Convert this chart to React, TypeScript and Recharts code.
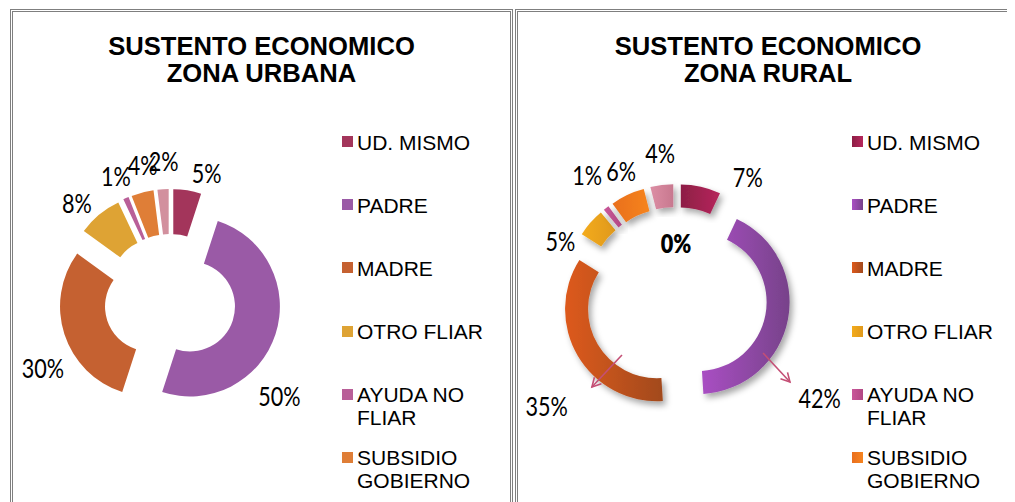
import React from "react";
import { Legend, Pie, PieChart, Sector } from "recharts";

// categories in the order Excel draws them (clockwise from 12 o'clock)
const categories = ["UD. MISMO", "PADRE", "MADRE", "OTRO FLIAR", "AYUDA NO FLIAR", "SUBSIDIO GOBIERNO", "OTROS", "NINGUNO"];
const urbanValues = [5, 50, 30, 8, 1, 4, 2];
const ruralValues = [7, 42, 35, 5, 1, 6, 4, 0];

const urbanColors = ["#a3355b", "#9a5aa6", "#c56131", "#dea334", "#b95f98", "#df7e37", "#d2909e"];
const ruralStops = [
  ["#8d1e45", "#b6265c"],
  ["#a94fc3", "#77428a"],
  ["#dd5a1b", "#a24a1f"],
  ["#f3ab1b", "#e0991c"],
  ["#c9579a", "#b24783"],
  ["#e96f1e", "#f6841f"],
  ["#dc8ea4", "#c8788f"],
  ["#999999", "#999999"],
];
const ruralColors = ruralStops.map((_, i) => `url(#rural-${i})`);

// label placement: angle nudge (deg, clockwise) and distance from centre
const urbanLabels = [
  { shift: 7, r: 133 },
  { shift: 23, r: 145 },
  { shift: -10, r: 144 },
  { shift: -4, r: 135 },
  { shift: 0, r: 136 },
  { shift: 3, r: 138 },
  { shift: 1, r: 140 },
];
const ruralLabels = [
  { shift: 18, r: 141 },
  { shift: 24, r: 175 },
  { shift: -9, r: 168 },
  { shift: -15, r: 129 },
  { shift: 2, r: 152 },
  { shift: 2, r: 139 },
  { shift: 1, r: 146 },
  { shift: 0, r: 55, bold: true },
];
// leader arrows for the dragged labels: [angle, radius] of start and end
const ruralArrows: Record<number, number[][]> = {
  1: [[122.3, 103], [126.4, 141.6]],
  2: [[223.5, 78.5], [223.4, 122.4]],
};

const urbanData = urbanValues.map((value, i) => ({ name: categories[i], value, fill: urbanColors[i] }));
const ruralData = ruralValues.map((value, i) => ({ name: categories[i], value, fill: ruralColors[i] }));

const ARIAL = "'Liberation Sans', Arial, sans-serif";

function polar(cx: number, cy: number, r: number, theta: number) {
  const a = (theta * Math.PI) / 180;
  return [cx + r * Math.sin(a), cy - r * Math.cos(a)];
}

function explodedShape(dist: number, filter?: string) {
  return (p: any) => {
    const a = (-p.midAngle * Math.PI) / 180;
    return (
      <g filter={filter}>
        <Sector
          cx={p.cx + dist * Math.cos(a)}
          cy={p.cy + dist * Math.sin(a)}
          innerRadius={p.innerRadius}
          outerRadius={p.outerRadius}
          startAngle={p.startAngle}
          endAngle={p.endAngle}
          fill={p.fill}
          stroke="none"
        />
      </g>
    );
  };
}

function makeLabel(tweaks: { shift: number; r: number; bold?: boolean }[], arrows: Record<number, number[][]> = {}) {
  return (p: any) => {
    const t = tweaks[p.index];
    if (!t) return null;
    const theta = 90 - p.midAngle + t.shift;
    const [x, y] = polar(p.cx, p.cy, t.r, theta);
    const arrow = arrows[p.index];
    let arrowEl = null;
    if (arrow) {
      const [x0, y0] = polar(p.cx, p.cy, arrow[0][1], arrow[0][0]);
      const [x1, y1] = polar(p.cx, p.cy, arrow[1][1], arrow[1][0]);
      const ang = Math.atan2(y1 - y0, x1 - x0);
      const w = 10;
      const h1 = [x1 - w * Math.cos(ang - 0.5), y1 - w * Math.sin(ang - 0.5)];
      const h2 = [x1 - w * Math.cos(ang + 0.5), y1 - w * Math.sin(ang + 0.5)];
      arrowEl = (
        <g stroke="#c44f75" strokeWidth={1.6} fill="none">
          <line x1={x0} y1={y0} x2={x1} y2={y1} />
          <polyline points={`${h1[0]},${h1[1]} ${x1},${y1} ${h2[0]},${h2[1]}`} />
        </g>
      );
    }
    return (
      <g>
        {arrowEl}
        <text
          x={0}
          y={0}
          transform={`translate(${x},${y}) scale(0.8,1)`}
          textAnchor="middle"
          dominantBaseline="central"
          fontFamily="Lato, 'Open Sans', sans-serif"
          fontSize={27}
          fontWeight={t.bold ? 800 : 400}
          fill="#000"
        >
          {p.value}%
        </text>
      </g>
    );
  };
}

function LegendBox({ names, fills }: { names: string[]; fills: string[] }) {
  return (
    <div style={{ fontFamily: ARIAL, fontSize: 21, lineHeight: "23px", color: "#000" }}>
      {names.map((n, i) => (
        <div key={n} style={{ height: 63.2, display: "flex", alignItems: "flex-start" }}>
          <svg width={11} height={11} style={{ marginTop: 5.5, marginRight: 4, flex: "none" }}>
            <rect width={11} height={11} fill={fills[i]} />
          </svg>
          <span style={{ width: 140 }}>{n}</span>
        </div>
      ))}
    </div>
  );
}

const titleStyle: React.CSSProperties = {
  position: "absolute",
  top: 33,
  textAlign: "center",
  fontFamily: ARIAL,
  fontWeight: 700,
  fontSize: 25.6,
  lineHeight: "27px",
  color: "#000",
};

const cellStyle: React.CSSProperties = {
  position: "absolute",
  top: 9,
  height: 520,
  border: "3px double #7f7f7f",
  boxSizing: "border-box",
};

export default function App() {
  return (
    <div style={{ position: "relative", width: 1015, height: 502, marginLeft: -8, marginTop: -8, overflow: "hidden", background: "#fff" }}>
      <svg width={0} height={0} style={{ position: "absolute" }}>
        <defs>
          {ruralStops.map((s, i) => (
            <linearGradient key={i} id={`rural-${i}`} x1="0" y1="0" x2="1" y2="0">
              <stop offset="0%" stopColor={s[0]} />
              <stop offset="100%" stopColor={s[1]} />
            </linearGradient>
          ))}
          <filter id="ring-shadow" x="-20%" y="-20%" width="150%" height="150%">
            <feDropShadow dx={3} dy={4} stdDeviation={3} floodColor="#000" floodOpacity={0.35} />
          </filter>
        </defs>
      </svg>

      <div style={{ ...cellStyle, left: 10, width: 503 }} />
      <div style={{ ...cellStyle, left: 515, width: 520 }} />

      <div style={{ ...titleStyle, left: 10, width: 503 }}>
        SUSTENTO ECONOMICO
        <br />
        ZONA URBANA
      </div>
      <div style={{ ...titleStyle, left: 515, width: 506 }}>
        SUSTENTO ECONOMICO
        <br />
        ZONA RURAL
      </div>

      <div style={{ position: "absolute", left: 0, top: 0 }}>
        <PieChart width={513} height={502} margin={{ top: 0, right: 0, bottom: 0, left: 0 }}>
          <Pie
            data={urbanData}
            dataKey="value"
            nameKey="name"
            cx={170}
            cy={300}
            innerRadius={45}
            outerRadius={90}
            startAngle={90}
            endAngle={-270}
            stroke="none"
            shape={explodedShape(21)}
            activeShape={explodedShape(21)}
            inactiveShape={explodedShape(21)}
            label={makeLabel(urbanLabels)}
            labelLine={false}
            isAnimationActive={false}
          />
          <Legend
            content={() => <LegendBox names={categories.slice(0, urbanValues.length)} fills={urbanColors} />}
            wrapperStyle={{ left: 342, top: 130.5, width: 172, bottom: "auto" }}
          />
        </PieChart>
      </div>

      <div style={{ position: "absolute", left: 515, top: 0 }}>
        <PieChart width={500} height={502} margin={{ top: 0, right: 0, bottom: 0, left: 0 }}>
          <Pie
            data={ruralData}
            dataKey="value"
            nameKey="name"
            cx={161}
            cy={298}
            innerRadius={69}
            outerRadius={92}
            startAngle={90}
            endAngle={-270}
            stroke="none"
            shape={explodedShape(22, "url(#ring-shadow)")}
            activeShape={explodedShape(22, "url(#ring-shadow)")}
            inactiveShape={explodedShape(22, "url(#ring-shadow)")}
            label={makeLabel(ruralLabels, ruralArrows)}
            labelLine={false}
            isAnimationActive={false}
          />
          <Legend
            content={() => <LegendBox names={categories.slice(0, ruralValues.length)} fills={ruralColors} />}
            wrapperStyle={{ left: 337, top: 130.5, width: 172, bottom: "auto" }}
          />
        </PieChart>
      </div>
    </div>
  );
}
